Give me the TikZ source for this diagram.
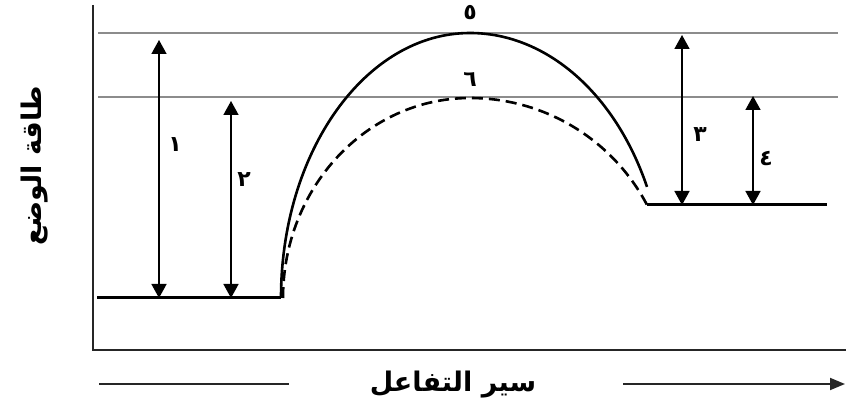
\documentclass[tikz,border=0pt]{standalone}
\usepackage{fontspec}
\TeXXeTstate=1
\newfontfamily\arabicfont[Script=Arabic]{DejaVu Sans}
\usetikzlibrary{arrows.meta}
\begin{document}
\begin{tikzpicture}[x=1pt,y=1pt,
  axis/.style={line width=1.8pt, black!85},
  guide/.style={line width=1.3pt, black!45},
  level/.style={line width=3pt, black},
  curve/.style={line width=2.6pt, black},
  dcurve/.style={line width=2.6pt, black, dash pattern=on 11pt off 6pt},
  shade/.style={line width=2pt, black!20},
  dim/.style={line width=1.6pt, black, {Triangle[width=15pt,length=14pt]}-{Triangle[width=15pt,length=14pt]}},
  num/.style={font=\arabicfont\bfseries\fontsize{22}{22}\selectfont, inner sep=0pt},
  ttl/.style={font=\arabicfont\bfseries\fontsize{27}{27}\selectfont, inner sep=0pt}]
\useasboundingbox (0,0) rectangle (846,409);
% axes
\coordinate (o) at (93,59);
\coordinate (ytop) at (93,404);
\coordinate (xend) at (846,59);
\draw[axis] (ytop) -- (o) -- (xend);
% guide lines
\coordinate (g1a) at (98,376); \coordinate (g1b) at (838,376);
\coordinate (g2a) at (98,312); \coordinate (g2b) at (838,312);
\draw[guide] (g1a) -- (g1b);
\draw[guide] (g2a) -- (g2b);
% levels
\coordinate (ra) at (97,111); \coordinate (rb) at (281,111);
\coordinate (rc) at (283,111);
\coordinate (pa) at (647,204); \coordinate (pb) at (827,204);
% shadows
\begin{scope}[shift={(3,-3)}]
\draw[shade] (ra) -- (rb);
\draw[shade] (rb) arc[start angle=180,end angle=90,x radius=189,y radius=265]
  arc[start angle=90,end angle=24.8,x radius=195,y radius=265];
\draw[shade, dash pattern=on 11pt off 6pt] (rc) arc[start angle=180,end angle=90,x radius=187,y radius=200]
  arc[start angle=90,end angle=27.7,x radius=200,y radius=200];
\draw[shade] (pa) -- (pb);
\end{scope}
\draw[level] (ra) -- (rb);
\draw[level] (pa) -- (pb);
\draw[curve] (rb) arc[start angle=180,end angle=90,x radius=189,y radius=265]
  arc[start angle=90,end angle=24.8,x radius=195,y radius=265];
\draw[dcurve] (rc) arc[start angle=180,end angle=90,x radius=187,y radius=200]
  arc[start angle=90,end angle=27.7,x radius=200,y radius=200];
% dimension arrows
\coordinate (a1b) at (159,111); \coordinate (a1t) at (159,369);
\coordinate (a2b) at (231,111); \coordinate (a2t) at (231,308);
\coordinate (a3b) at (682,204); \coordinate (a3t) at (682,374);
\coordinate (a4b) at (753,204); \coordinate (a4t) at (753,313);
\draw[dim] (a1b) -- (a1t);
\draw[dim] (a2b) -- (a2t);
\draw[dim] (a3b) -- (a3t);
\draw[dim] (a4b) -- (a4t);
% labels
\node[num] (n1) at (175,264) {\beginR ١\endR};
\node[num] (n2) at (244,229) {\beginR ٢\endR};
\node[num] (n3) at (700,274) {\beginR ٣\endR};
\node[num] (n4) at (766,250) {\beginR ٤\endR};
\node[num] (n5) at (470,396) {\beginR ٥\endR};
\node[num] (n6) at (470,329) {\beginR ٦\endR};
\node[ttl, rotate=90] (ylab) at (35,243) {\beginR طاقة الوضع\endR};
\node[ttl] (xlab) at (453,24) {\beginR سير التفاعل\endR};
% bottom arrow
\coordinate (b1) at (99,25); \coordinate (b2) at (289,25);
\coordinate (b3) at (623,25); \coordinate (b4) at (845,25);
\draw[line width=1.8pt, black!85] (b1) -- (b2);
\draw[line width=1.8pt, black!85, -{Triangle[width=12pt,length=15pt]}] (b3) -- (b4);
\end{tikzpicture}
\end{document}
